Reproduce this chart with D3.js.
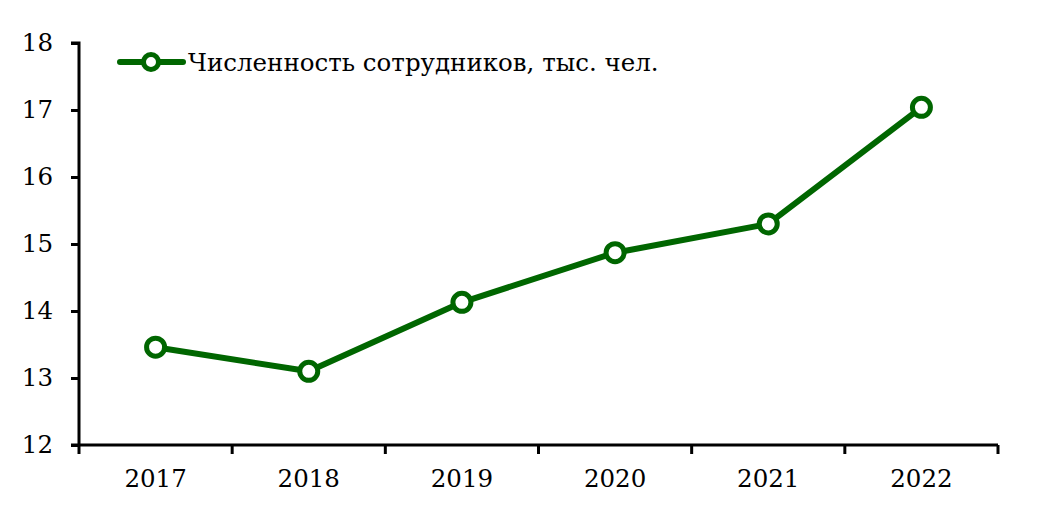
<!DOCTYPE html>
<html>
<head>
<meta charset="utf-8">
<script src="https://cdn.jsdelivr.net/npm/d3@7"></script>
<style>
  body { margin: 0; background: #fff; }
  text { font-family: "DejaVu Serif", serif; }
</style>
</head>
<body>
<div id="chart"></div>
<script>
'use strict';

var years = ['2017', '2018', '2019', '2020', '2021', '2022'];
var staff = [13.46, 13.1, 14.13, 14.87, 15.3, 17.04];
var yTicks = [12, 13, 14, 15, 16, 17, 18];
var seriesName = 'Численность сотрудников, тыс. чел.';

var width = 1038, height = 519;
var margin = {left: 79, right: 40, top: 43, bottom: 74};
var green = '#006600';
var fontSize = 24.5;

var svg = d3.select('#chart')
  .append('svg')
  .attr('width', width)
  .attr('height', height);

var x = d3.scaleBand()
  .domain(years)
  .range([margin.left, width - margin.right]);
var y = d3.scaleLinear()
  .domain([12, 18])
  .range([height - margin.bottom, margin.top]);

// y axis
var yAxis = svg.append('g')
  .attr('transform', 'translate(' + margin.left + ',0)')
  .call(d3.axisLeft(y).tickValues(yTicks).tickFormat(d3.format('d')).tickSize(8).tickPadding(18));
yAxis.select('.domain').attr('stroke-width', 3).attr('d', 'M-8,' + y(18) + 'H0V' + y(12));
yAxis.selectAll('.tick line').attr('stroke-width', 3);
yAxis.selectAll('text').attr('font-size', fontSize).attr('fill', '#000')
  .style('font-family', '"DejaVu Serif", serif');

// x axis
var xAxis = svg.append('g')
  .attr('transform', 'translate(0,' + y(12) + ')')
  .call(d3.axisBottom(x).tickSize(0).tickPadding(25));
xAxis.select('.domain').attr('stroke-width', 3).attr('d', 'M' + (margin.left - 8) + ',0H' + (width - margin.right));
xAxis.selectAll('text').attr('font-size', fontSize).attr('fill', '#000')
  .style('font-family', '"DejaVu Serif", serif');
var bounds = years.map(function(d) { return x(d); }).concat([x(years[years.length - 1]) + x.bandwidth()]);
xAxis.selectAll('.sep')
  .data(bounds)
  .enter()
  .append('line')
  .attr('x1', function(d) { return d; })
  .attr('x2', function(d) { return d; })
  .attr('y1', 0)
  .attr('y2', 9)
  .attr('stroke', '#000')
  .attr('stroke-width', 3);

// series
var line = d3.line()
  .x(function(d, i) { return x(years[i]) + x.bandwidth() / 2; })
  .y(function(d) { return y(d); });

svg.append('path')
  .datum(staff)
  .attr('d', line)
  .attr('fill', 'none')
  .attr('stroke', green)
  .attr('stroke-width', 6)
  .attr('stroke-linejoin', 'round');

svg.selectAll('.pt')
  .data(staff)
  .enter()
  .append('circle')
  .attr('cx', function(d, i) { return x(years[i]) + x.bandwidth() / 2; })
  .attr('cy', function(d) { return y(d); })
  .attr('r', 9)
  .attr('fill', '#fff')
  .attr('stroke', green)
  .attr('stroke-width', 5);

// legend
var lg = svg.append('g').attr('transform', 'translate(120,62)');
lg.append('line')
  .attr('x1', 0).attr('x2', 63)
  .attr('stroke', green).attr('stroke-width', 6).attr('stroke-linecap', 'round');
lg.append('circle')
  .attr('cx', 31).attr('r', 7.5)
  .attr('fill', '#fff').attr('stroke', green).attr('stroke-width', 5);
lg.append('text')
  .attr('x', 68).attr('y', 9)
  .attr('font-size', fontSize)
  .text(seriesName);
</script>
</body>
</html>
